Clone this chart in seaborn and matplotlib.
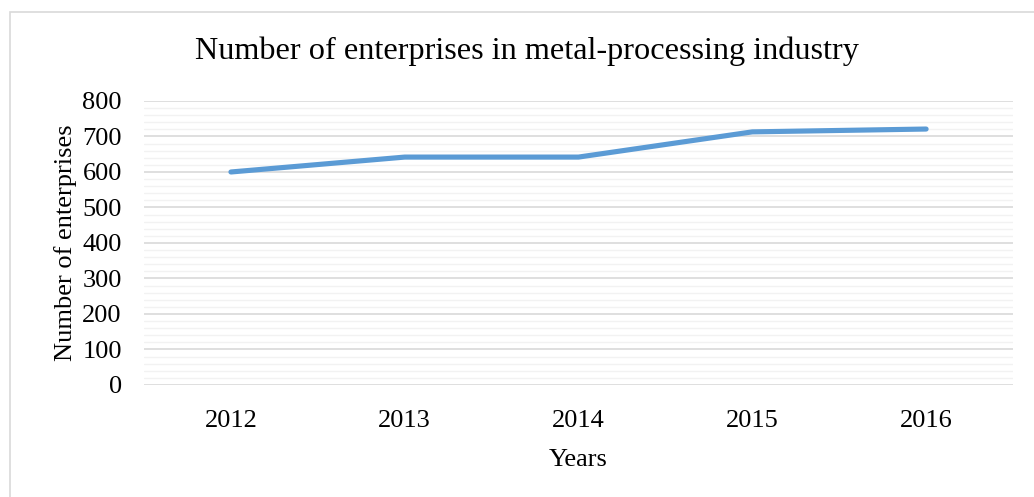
import matplotlib
matplotlib.use("Agg")
import matplotlib.pyplot as plt
from matplotlib.patches import Rectangle
from matplotlib.ticker import MultipleLocator
import seaborn as sns
import pandas as pd

years = ["2012", "2013", "2014", "2015", "2016"]
enterprises = [600, 642, 642, 713, 721]

title = "Number of enterprises in metal-processing industry"
x_label = "Years"
y_label = "Number of enterprises"

sns.set_theme(style="white")
plt.rcParams["font.family"] = ["Liberation Serif", "DejaVu Serif"]

df = pd.DataFrame({"year": years, "count": enterprises})

fig = plt.figure(figsize=(10.34, 4.97), dpi=100)
ax = fig.add_axes([0.1393, 0.2254, 0.9797 - 0.1393, 0.7968 - 0.2254])

# Light frame around the whole chart area
fig.patches.append(Rectangle((10 / 1034, -0.1), 1.2, 1.1 - 12 / 497,
                             transform=fig.transFigure, fill=False,
                             edgecolor="#d9d9d9", linewidth=1.2, zorder=0))

sns.lineplot(data=df, x="year", y="count", ax=ax, color="#5b9bd5",
             linewidth=3.7, solid_capstyle="round", solid_joinstyle="round",
             sort=False, zorder=3)

ax.set_xlim(-0.5, len(years) - 0.5)
ax.set_ylim(0, 800)
ax.yaxis.set_major_locator(MultipleLocator(100))
ax.yaxis.set_minor_locator(MultipleLocator(20))
ax.grid(which="major", axis="y", color="#d9d9d9", linewidth=1.2, zorder=1)
ax.grid(which="minor", axis="y", color="#f2f2f2", linewidth=1.0, zorder=0)
ax.grid(which="major", axis="x", visible=False)
for s in ax.spines.values():
    s.set_visible(False)
ax.tick_params(axis="both", which="both", length=0, labelsize=19, colors="black")
ax.tick_params(axis="x", pad=18)
ax.tick_params(axis="y", pad=16)

ax.set_xlabel(x_label, fontsize=19, color="black", labelpad=12)
ax.set_ylabel(y_label, fontsize=19, color="black", labelpad=4)
fig.text(527 / 1034, 1 - 51 / 497, title, fontsize=23.2, color="black",
         ha="center", va="center")

fig.savefig("out.png", dpi=100)
